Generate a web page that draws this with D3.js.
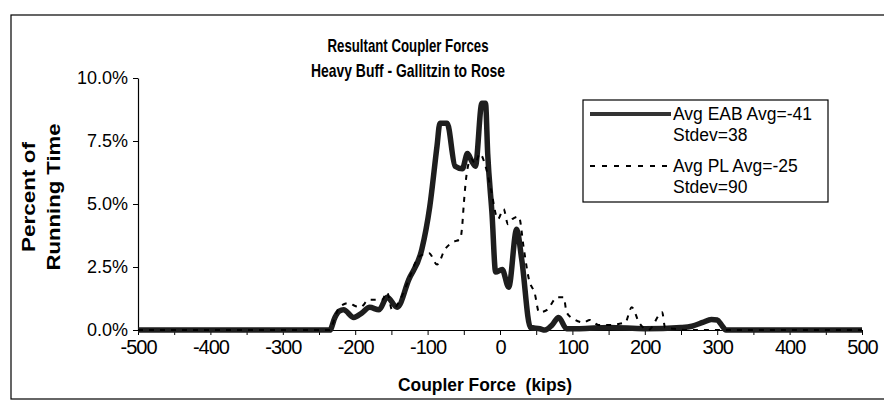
<!DOCTYPE html>
<html><head><meta charset="utf-8">
<script src="https://cdn.jsdelivr.net/npm/d3@7"></script>
<style>
body{margin:0;background:#fff;}
text{font-family:"Liberation Sans",Arial,sans-serif;fill:#000;}
</style></head>
<body><svg id="c" width="884" height="408"></svg>
<script>
const titleLines = ["Resultant Coupler Forces", "Heavy Buff - Gallitzin to Rose"];
const xTitle = "Coupler Force  (kips)";
const yTitleLines = ["Percent of", "Running Time"];
const xTickValues = [-500,-400,-300,-200,-100,0,100,200,300,400,500];
const yTickValues = [0,2.5,5,7.5,10];
const yTickLabels = ["0.0%","2.5%","5.0%","7.5%","10.0%"];

const eabForce = [-500,-235,-228,-222,-216,-202,-191,-180,-167,-156,-142,-126,-108,-97,-87,-83,-73,-62,-52,-45,-39,-34,-25,-20,-17,-11,-6,3,12,23,30,42,55,62,72,81,92,110,150,200,250,265,280,292,300,306,312,500];
const eabValue = [0,0,0.5,0.75,0.8,0.5,0.67,0.9,0.8,1.3,0.9,2.0,3.2,4.9,7.3,8.2,8.2,6.5,6.4,7.0,6.7,6.5,9.0,9.0,7.0,4.6,2.3,2.4,1.7,4.0,2.8,0.1,0.05,0.0,0.2,0.5,0.05,0.05,0.1,0.05,0.1,0.15,0.3,0.42,0.4,0.2,0.0,0.0];

const plForce = [-500,-235,-228,-222,-209,-200,-193,-181,-163,-156,-149,-138,-128,-112,-98,-87,-76,-64,-55,-52,-50,-46,-40,-34,-28,-20,-12,-3,5,11,17,26,33,40,48,54,65,79,88,92,104,116,124,136,150,173,182,192,205,224,228,240,261,300,500];
const plValue = [0,0,0.5,0.9,1.07,0.95,0.9,1.2,1.2,1.5,0.8,1.2,1.85,2.9,3.05,2.6,3.2,3.5,3.6,4.2,5.0,6.2,6.8,6.6,7.0,6.5,5.5,4.4,4.8,4.2,4.4,4.5,3.2,2.0,1.45,0.7,0.8,1.3,1.3,0.7,0.4,0.3,0.4,0.2,0.2,0.3,0.9,0.3,0.0,0.7,0.1,0.05,0.0,0.0,0.0];

const legendItems = [
  {lines:["Avg EAB Avg=-41","Stdev=38"], key:"eab"},
  {lines:["Avg PL Avg=-25","Stdev=90"], key:"pl"}
];

const svg = d3.select("#c");
svg.append("rect").attr("x",11).attr("y",15).attr("width",890).attr("height",384)
  .attr("fill","none").attr("stroke","#000").attr("stroke-width",1.2);

const x = d3.scaleLinear().domain([-500,500]).range([138,862]);
const y = d3.scaleLinear().domain([0,10]).range([330,78]);

const titleLen = [161, 194];
svg.selectAll("text.title").data(titleLines).join("text").attr("class","title")
  .attr("x",408).attr("y",(d,i)=>52+i*25).attr("text-anchor","middle")
  .attr("textLength",(d,i)=>titleLen[i]).attr("lengthAdjust","spacingAndGlyphs")
  .style("font-weight","bold").style("font-size","19px").text(d=>d);

// y axis
const yAxis = d3.axisLeft(y).tickValues(yTickValues).tickSize(5).tickSizeOuter(0)
  .tickFormat((d,i)=>yTickLabels[i]);
const gy = svg.append("g").attr("transform","translate(138,0)").call(yAxis);
gy.select(".domain").attr("stroke","#000").attr("stroke-width",1.2);
gy.selectAll(".tick line").attr("stroke","#000");
gy.selectAll(".tick text").attr("x",-10).style("font-size","18px").style("font-family","'Liberation Sans',Arial,sans-serif");

// x axis
const xAxis = d3.axisBottom(x).tickValues(d3.range(-500,501,50)).tickSize(5).tickSizeOuter(0)
  .tickFormat(d=> xTickValues.includes(d) ? String(d) : "");
const gx = svg.append("g").attr("transform","translate(0,330)").call(xAxis);
gx.select(".domain").attr("stroke","#000").attr("stroke-width",1.2);
gx.selectAll(".tick line").attr("stroke","#000");
gx.selectAll(".tick text").attr("y",10).style("font-size","20px").style("letter-spacing","-1px")
  .style("font-family","'Liberation Sans',Arial,sans-serif");

// axis titles
svg.append("text").attr("x",485).attr("y",391).attr("text-anchor","middle")
  .attr("xml:space","preserve").attr("textLength",174).attr("lengthAdjust","spacingAndGlyphs")
  .style("font-weight","bold").style("font-size","19px").text(xTitle);
const yTitleLen = [110, 147];
svg.selectAll("text.ytitle").data(yTitleLines).join("text").attr("class","ytitle")
  .attr("transform",(d,i)=>`translate(${35+i*25},197) rotate(-90)`)
  .attr("text-anchor","middle").attr("textLength",(d,i)=>yTitleLen[i]).attr("lengthAdjust","spacingAndGlyphs")
  .style("font-weight","bold").style("font-size","18px").text(d=>d);

// lines
const line = (fx, vy) => d3.line().x((d,i)=>x(fx[i])).y((d,i)=>y(vy[i])).curve(d3.curveMonotoneX)(fx);
svg.append("path").attr("d",line(eabForce,eabValue)).attr("fill","none")
  .attr("stroke","#1e1e1e").attr("stroke-width",5.5).attr("stroke-linejoin","round");
svg.append("path").attr("d",line(plForce,plValue)).attr("fill","none")
  .attr("stroke","#000").attr("stroke-width",2).attr("stroke-dasharray","5,6");

// legend
const lg = svg.append("g");
lg.append("rect").attr("x",583).attr("y",100).attr("width",245).attr("height",102)
  .attr("fill","#fff").attr("stroke","#000").attr("stroke-width",1.2);
const rowBase = [120, 172];
legendItems.forEach((it,k)=>{
  const b = rowBase[k];
  if(it.key==="eab"){
    lg.append("line").attr("x1",590).attr("x2",671).attr("y1",b-6).attr("y2",b-6)
      .attr("stroke","#333").attr("stroke-width",4);
  } else {
    lg.append("line").attr("x1",590).attr("x2",671).attr("y1",b-6).attr("y2",b-6)
      .attr("stroke","#000").attr("stroke-width",2).attr("stroke-dasharray","5,7");
  }
  it.lines.forEach((t,j)=>{
    lg.append("text").attr("x",673).attr("y",b+j*21).style("font-size","17.5px").text(t);
  });
});
</script></body></html>
